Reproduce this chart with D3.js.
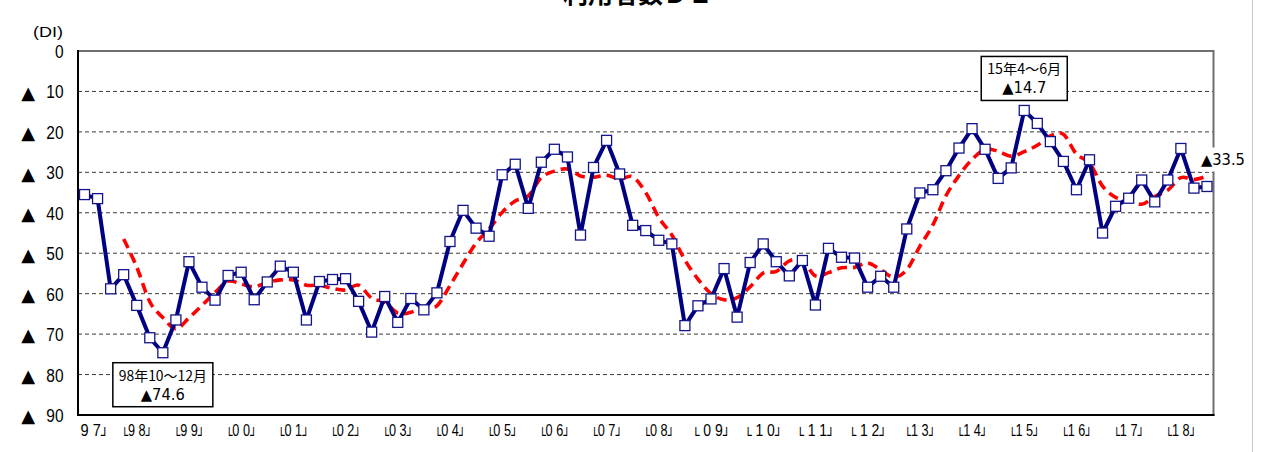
<!DOCTYPE html>
<html>
<head>
<meta charset="utf-8">
<script src="https://cdn.jsdelivr.net/npm/d3@7"></script>
<style>
  body { margin: 0; background: #fff; }
  svg { display: block; }
</style>
</head>
<body>
<svg id="chart" width="1265" height="452"></svg>
<script>
// Quarterly survey: users DI (negative values shown with ▲)
const years = [1997, 1998, 1999, 2000, 2001, 2002, 2003, 2004, 2005, 2006, 2007,
               2008, 2009, 2010, 2011, 2012, 2013, 2014, 2015, 2016, 2017, 2018];
const quarterNames = ["1-3", "4-6", "7-9", "10-12"];

const yearLabels = ["9 7┘", "└9 8┘", "└9 9┘", "└0 0┘", "└0 1┘", "└0 2┘", "└0 3┘",
                    "└0 4┘", "└0 5┘", "└0 6┘", "└0 7┘", "└0 8┘", "└ 0 9┘", "└ 1 0┘",
                    "└ 1 1┘", "└ 1 2┘", "└1 3┘", "└1 4┘", "└1 5┘", "└1 6┘", "└1 7┘", "└1 8┘"];

// Quarterly DI
const diValues = [
  -35.5, -36.5, -58.8, -55.3, -62.9, -70.9, -74.6, -66.5, -52.1, -58.4,
  -61.6, -55.5, -54.7, -61.5, -57.1, -53.2, -54.7, -66.5, -57.0, -56.5,
  -56.3, -61.9, -69.5, -60.7, -67.1, -61.2, -64.0, -59.8, -47.1, -39.4,
  -43.8, -45.8, -30.6, -28.0, -38.9, -27.5, -24.3, -26.2, -45.5, -28.8,
  -22.1, -30.4, -43.1, -44.4, -46.8, -47.7, -67.9, -63.0, -61.3, -53.8,
  -65.8, -52.3, -47.7, -52.1, -55.6, -51.8, -62.8, -48.8, -51.0, -51.2,
  -58.4, -55.7, -58.4, -44.0, -35.1, -34.3, -29.6, -24.0, -19.2, -24.3,
  -31.5, -28.9, -14.7, -17.9, -22.4, -27.3, -34.3, -26.9, -45.0, -38.4,
  -36.4, -31.9, -37.3, -31.9, -24.1, -33.9, -33.5
];

// Four-quarter moving average (starts with the fourth quarter)
const maValues = [
  null, null, null,
  -46.5, -53.4, -62.0, -65.9, -68.7, -66.0, -62.9,
  -59.7, -56.9, -57.6, -58.3, -57.2, -56.6, -56.6, -57.9, -57.9, -58.7,
  -59.1, -57.9, -61.1, -62.1, -64.8, -64.6, -63.3, -63.0, -58.0, -52.6,
  -47.5, -44.0, -39.9, -37.1, -35.8, -31.3, -29.7, -29.2, -30.9, -31.2,
  -30.7, -31.7, -31.1, -35.0, -41.2, -45.5, -51.7, -56.4, -60.0, -61.5,
  -61.0, -58.3, -54.9, -54.5, -51.9, -51.8, -55.6, -54.8, -53.6, -53.5,
  -52.4, -54.1, -55.9, -54.1, -48.3, -43.0, -35.8, -30.8, -26.8, -24.3,
  -24.8, -26.0, -24.9, -23.3, -21.0, -20.6, -25.5, -27.7, -33.4, -36.2,
  -36.7, -37.9, -36.0, -34.4, -31.3, -31.8, -30.9
];

const yTicks = [0, -10, -20, -30, -40, -50, -60, -70, -80, -90];

// Callouts
const lowNote = { period: "1998 10-12", line1: "98年10～12月", line2: "▲74.6" };
const highNote = { period: "2015 4-6", line1: "15年4～6月", line2: "▲14.7" };
const lastNote = "▲33.5";

// Period keys: 1997 starts with April-June
const periods = [];
years.forEach(yr => quarterNames.forEach((q, qi) => {
  if (yr === 1997 && qi === 0) return;
  periods.push(yr + " " + q);
}));

const svg = d3.select("#chart");
const plot = { left: 78, right: 1213.5, top: 51, bottom: 415 };

const x = d3.scaleBand().domain(periods).range([plot.left, plot.right]);
const cx = p => x(p) + x.bandwidth() / 2;
const y = d3.scaleLinear().domain([-90, 0]).range([plot.bottom, plot.top]);

// Title (mostly above the visible area)
svg.append("text")
  .attr("x", 638).attr("y", 3)
  .attr("text-anchor", "middle")
  .style("font-family", "'Noto Sans CJK JP', sans-serif")
  .style("font-size", "25px").style("font-weight", "bold")
  .text("利用者数ＤＩ");

// Outer frame line on the right
svg.append("line")
  .attr("x1", 1252.5).attr("x2", 1252.5).attr("y1", 0).attr("y2", 452)
  .attr("stroke", "#c8c8c8").attr("stroke-width", 1);

// Horizontal dashed gridlines
svg.append("g")
  .selectAll("line")
  .data(yTicks.filter(d => d < 0 && d > -90))
  .join("line")
  .attr("x1", plot.left).attr("x2", plot.right)
  .attr("y1", d => y(d)).attr("y2", d => y(d))
  .attr("stroke", "#3a3a3a").attr("stroke-width", 1)
  .attr("stroke-dasharray", "4,3");

// Plot area frame
svg.append("rect")
  .attr("x", plot.left).attr("y", plot.top)
  .attr("width", plot.right - plot.left).attr("height", plot.bottom - plot.top)
  .attr("fill", "none").attr("stroke", "#6e6e6e").attr("stroke-width", 2);

// Y axis labels
const yAxis = d3.axisLeft(y).tickValues(yTicks).tickSize(0).tickPadding(0)
  .tickFormat(d => String(Math.abs(d)));
const gy = svg.append("g").attr("transform", "translate(63.5,0)").call(yAxis);
gy.select(".domain").remove();
gy.selectAll(".tick text")
  .attr("dy", "0.36em")
  .style("font-family", "'Liberation Sans', Arial, sans-serif")
  .style("font-size", "18px")
  .attr("fill", "#000")
  .attr("textLength", d => String(Math.abs(d)).length * 8.6)
  .attr("lengthAdjust", "spacingAndGlyphs");
gy.selectAll(".tick").filter(d => d < 0)
  .append("text")
  .attr("x", -28.5).attr("dy", "0.38em")
  .attr("text-anchor", "end")
  .attr("fill", "#000")
  .style("font-family", "'DejaVu Sans', sans-serif")
  .style("font-size", "18px")
  .text("▲");

svg.append("text")
  .attr("x", 63).attr("y", 37)
  .attr("text-anchor", "end")
  .style("font-family", "'Liberation Sans', Arial, sans-serif")
  .style("font-size", "14px")
  .attr("textLength", 30).attr("lengthAdjust", "spacingAndGlyphs")
  .text("(DI)");

// X axis: one label per year; bracket glyphs lowered to sit on the baseline
const xAxis = d3.axisBottom(x)
  .tickValues(periods.filter((p, i) => i % 4 === 0))
  .tickSize(0)
  .tickFormat("");
const gx = svg.append("g").attr("transform", `translate(0,${plot.bottom})`).call(xAxis);
gx.select(".domain").remove();
gx.selectAll(".tick text").each(function (d, i) {
  const t = d3.select(this)
    .attr("y", 20.5).attr("dy", 0)
    .attr("x", i === 0 ? 10 : 0)
    .attr("fill", "#000")
    .style("font-family", "'Liberation Sans', Arial, sans-serif")
    .style("font-size", "16px");
  const label = yearLabels[i];
  let shifted = false;
  for (const ch of label) {
    const isBox = ch === "└" || ch === "┘";
    const s = t.append("tspan").text(ch);
    if (isBox) {
      s.style("font-family", "'DejaVu Sans', sans-serif").style("font-size", "14px");
      if (!shifted) { s.attr("dy", 4); shifted = true; }
    } else if (shifted) {
      s.attr("dy", -4); shifted = false;
    }
  }
  const n = label.length;
  t.attr("textLength", n <= 4 ? 28 : n === 5 ? 31 : 38)
   .attr("lengthAdjust", "spacingAndGlyphs");
});

// Left and bottom axis lines
svg.append("line")
  .attr("x1", plot.left).attr("x2", plot.left).attr("y1", plot.top - 1).attr("y2", plot.bottom + 1)
  .attr("stroke", "#000").attr("stroke-width", 2);
svg.append("line")
  .attr("x1", plot.left).attr("x2", plot.right + 1).attr("y1", plot.bottom).attr("y2", plot.bottom)
  .attr("stroke", "#000").attr("stroke-width", 2);

// Moving average: smoothed red dashed line
const maLine = d3.line()
  .defined(d => d.v !== null)
  .x(d => cx(d.p)).y(d => y(d.v))
  .curve(d3.curveCardinal.tension(0));
svg.append("path")
  .datum(periods.map((p, i) => ({ p, v: maValues[i] })))
  .attr("d", maLine)
  .attr("fill", "none").attr("stroke", "#ff0000")
  .attr("stroke-width", 3.6).attr("stroke-dasharray", "10,6");

// DI line with square markers
const diData = periods.map((p, i) => ({ p, v: diValues[i] }));
const diLine = d3.line().x(d => cx(d.p)).y(d => y(d.v));
svg.append("path")
  .datum(diData)
  .attr("d", diLine)
  .attr("fill", "none").attr("stroke", "#000080")
  .attr("stroke-width", 4).attr("stroke-linejoin", "round");
svg.append("g")
  .selectAll("rect")
  .data(diData)
  .join("rect")
  .attr("x", d => cx(d.p) - 5).attr("y", d => y(d.v) - 5)
  .attr("width", 10).attr("height", 10)
  .attr("fill", "#fff").attr("stroke", "#14148c").attr("stroke-width", 1.3);

// Callout boxes
function callout(note, below, width) {
  const i = periods.indexOf(note.period);
  const px = cx(note.period);
  const py = y(diValues[i]);
  const h = 44;
  const top = below ? py + 10 : py - 10 - h;
  const g = svg.append("g");
  g.append("rect")
    .attr("x", px - width / 2).attr("y", top)
    .attr("width", width).attr("height", h)
    .attr("fill", "#fff").attr("stroke", "#000").attr("stroke-width", 1.5);
  g.append("text")
    .attr("x", px).attr("y", top + 18)
    .attr("text-anchor", "middle")
    .style("font-family", "'Noto Sans CJK JP', sans-serif")
    .style("font-size", "14px")
    .attr("textLength", width - 12).attr("lengthAdjust", "spacingAndGlyphs")
    .text(note.line1);
  g.append("text")
    .attr("x", px).attr("y", top + 37)
    .attr("text-anchor", "middle")
    .style("font-family", "'DejaVu Sans', sans-serif")
    .style("font-size", "15px")
    .attr("textLength", 44).attr("lengthAdjust", "spacingAndGlyphs")
    .text(note.line2);
}
callout(lowNote, true, 100);
callout(highNote, false, 86);

// Latest value label
const lastP = periods[periods.length - 1];
const lx = cx(lastP) - 6, ly = y(diValues[diValues.length - 1]) - 27;
svg.append("rect")
  .attr("x", lx - 1).attr("y", ly - 12).attr("width", 48).attr("height", 24)
  .attr("fill", "#fff");
svg.append("text")
  .attr("x", lx).attr("y", ly).attr("dy", "0.36em")
  .style("font-family", "'DejaVu Sans', sans-serif")
  .style("font-size", "15px")
  .attr("textLength", 44).attr("lengthAdjust", "spacingAndGlyphs")
  .text(lastNote);
</script>
</body>
</html>
